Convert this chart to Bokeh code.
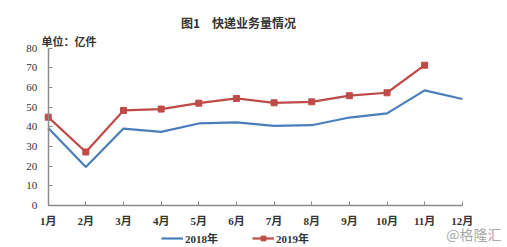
from bokeh.plotting import figure
from bokeh.models import (ColumnDataSource, FixedTicker, Legend, LegendItem, Label, Range1d)
from bokeh.embed import file_html
from bokeh.resources import INLINE

months = list(range(1, 13))
month_labels = ["1月", "2月", "3月", "4月", "5月", "6月", "7月", "8月", "9月", "10月", "11月", "12月"]
y2018 = [39.4, 19.6, 39.1, 37.4, 41.7, 42.2, 40.5, 40.8, 44.7, 46.8, 58.5, 54.1]
months2019 = list(range(1, 12))
y2019 = [44.9, 27.2, 48.3, 49.0, 52.0, 54.4, 52.2, 52.7, 55.8, 57.3, 71.3]
y_ticks = [0, 10, 20, 30, 40, 50, 60, 70, 80]

title_text = "图1　快递业务量情况"
unit_text = "单位：亿件"
watermark_text = "@格隆汇"

BLUE = "#4a7ebb"
RED = "#be4b48"
SERIF = "'Liberation Serif', 'Noto Sans CJK SC'"
SANS = "'Noto Sans CJK SC'"

# frame spans the whole canvas; axes sit inside it at fixed locations
p = figure(width=507, height=247, output_backend="svg", toolbar_location=None,
           x_range=Range1d(-0.267, 13.20), y_range=Range1d(-21.35, 104.19),
           min_border=0)
p.outline_line_color = None
p.xgrid.visible = False
p.ygrid.visible = False
p.background_fill_color = "white"
p.border_fill_color = "white"

for ax in (p.xaxis[0], p.yaxis[0]):
    ax.axis_line_color = "#8c8c8c"
    ax.axis_line_width = 1.5
    ax.major_tick_line_color = "#8c8c8c"
    ax.minor_tick_line_color = None
    ax.major_tick_out = 0
    ax.major_tick_in = 4

p.xaxis.fixed_location = 0
p.xaxis.bounds = (months[0], months[-1])
p.xaxis.ticker = FixedTicker(ticks=months)
p.xaxis.major_label_overrides = {m: lab for m, lab in zip(months, month_labels)}
p.xaxis.major_label_text_font = SERIF
p.xaxis.major_label_text_font_style = "bold"
p.xaxis.major_label_text_font_size = "11px"
p.xaxis.major_label_text_color = "#333333"
p.xaxis.major_label_standoff = 10

p.yaxis.fixed_location = months[0]
p.yaxis.bounds = (y_ticks[0], y_ticks[-1])
p.yaxis.ticker = FixedTicker(ticks=y_ticks)
p.yaxis.major_label_text_font = SERIF
p.yaxis.major_label_text_font_size = "11px"
p.yaxis.major_label_text_color = "#333333"
p.yaxis.major_label_standoff = 11

s18 = ColumnDataSource(dict(x=months, y=y2018))
s19 = ColumnDataSource(dict(x=months2019, y=y2019))
r18 = p.line("x", "y", source=s18, line_color=BLUE, line_width=2.2)
r19 = p.line("x", "y", source=s19, line_color=RED, line_width=2.2)
r19m = p.scatter("x", "y", source=s19, marker="square", size=6, fill_color=RED, line_color=RED)

legend = Legend(items=[LegendItem(label="2018年", renderers=[r18]),
                       LegendItem(label="2019年", renderers=[r19, r19m])],
                orientation="horizontal", location=(161, 1),
                background_fill_alpha=0, border_line_color=None,
                label_text_font=SERIF, label_text_font_size="11px",
                label_text_font_style="bold", label_text_color="#333333",
                glyph_width=22, glyph_height=12, spacing=34, padding=0, margin=0,
                label_standoff=2)
p.add_layout(legend)

p.add_layout(Label(x=238, y=225, x_units="screen", y_units="screen", text=title_text,
                   text_font=SANS, text_font_size="12px", text_font_style="bold",
                   text_align="center", text_baseline="middle", text_color="#333333"))
p.add_layout(Label(x=41, y=207, x_units="screen", y_units="screen", text=unit_text,
                   text_font=SANS, text_font_size="11px", text_font_style="bold",
                   text_align="left", text_baseline="middle", text_color="#333333"))
p.add_layout(Label(x=501, y=14, x_units="screen", y_units="screen", text=watermark_text,
                   text_font=SANS, text_font_size="14px",
                   text_align="right", text_baseline="middle", text_color="#a8a8a8"))

open("out.html", "w").write(file_html(p, INLINE))
